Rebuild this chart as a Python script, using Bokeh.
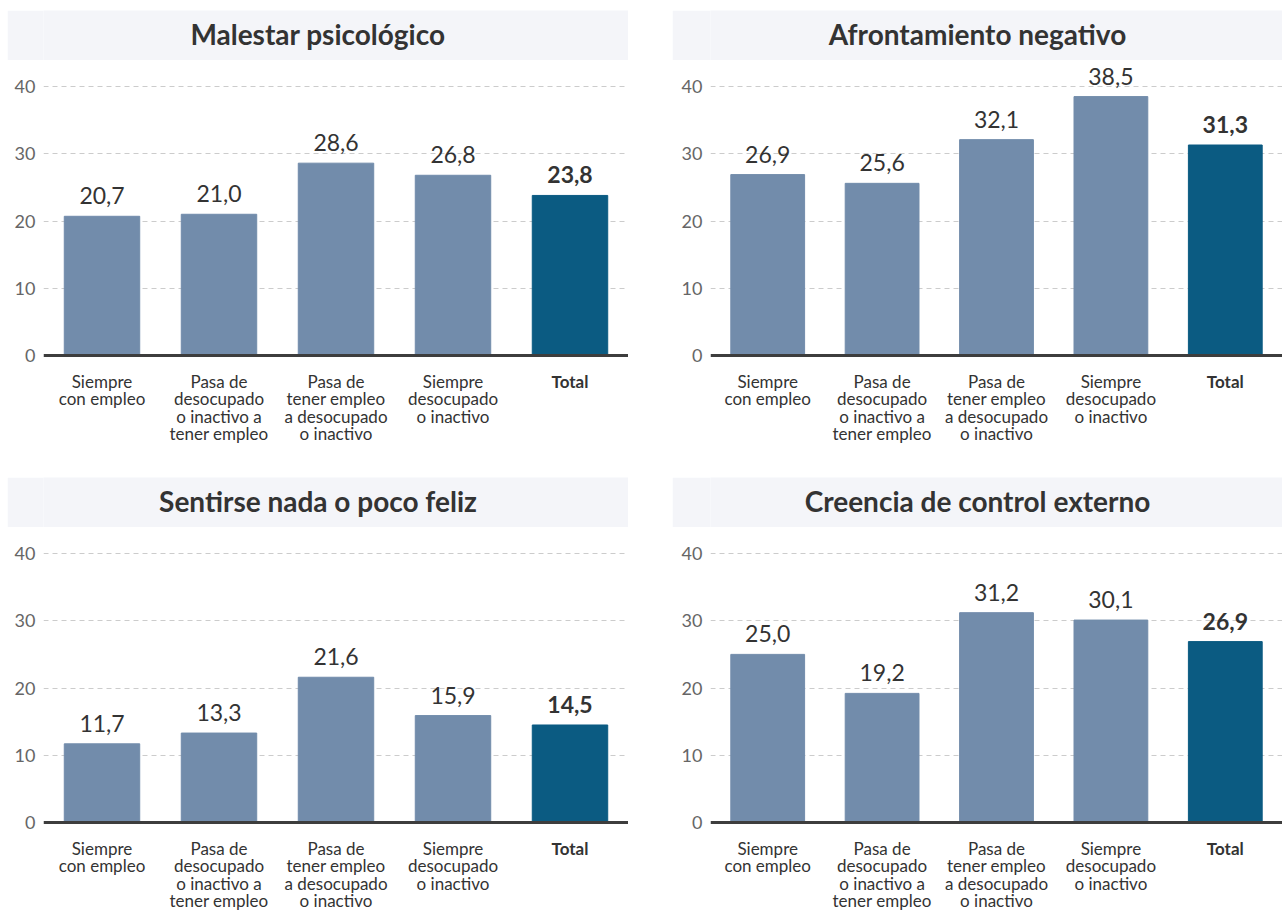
from bokeh.plotting import figure
from bokeh.layouts import column, row
from bokeh.models import ColumnDataSource, Range1d, FactorRange, FixedTicker, Span
from bokeh.core.properties import value
from bokeh.embed import file_html
from bokeh.resources import INLINE

# ---- data ----
categories = ["Siempre\ncon empleo",
              "Pasa de\ndesocupado\no inactivo a\ntener empleo",
              "Pasa de\ntener empleo\na desocupado\no inactivo",
              "Siempre\ndesocupado\no inactivo",
              "Total"]
titles = ["Malestar psicológico", "Afrontamiento negativo",
          "Sentirse nada o poco feliz", "Creencia de control externo"]
malestar = [20.7, 21.0, 28.6, 26.8, 23.8]
afrontamiento = [26.9, 25.6, 32.1, 38.5, 31.3]
feliz = [11.7, 13.3, 21.6, 15.9, 14.5]
control = [25.0, 19.2, 31.2, 30.1, 26.9]
y_ticks = [0, 10, 20, 30, 40]
grid_ticks = [10, 20, 30, 40]

FONT = "Lato"
LIGHT = "#728cab"
DARK = "#0b5b82"
BAND = "#f4f5f9"
TXT = "#333333"

CHART_H = 390          # chart figure height (px)
ZERO_FROM_TOP = 295    # px from chart top to zero line
PX_PER_UNIT = 6.725    # vertical scale


def make_panel(title, values, width, left_border):
    tf = figure(width=width, height=50, x_range=Range1d(0, 1), y_range=Range1d(0, 1),
                toolbar_location=None, output_backend="svg",
                min_border=0, min_border_left=0, min_border_right=0,
                min_border_top=0, min_border_bottom=0,
                x_axis_location=None, y_axis_location=None,
                background_fill_color=BAND, border_fill_color=BAND,
                outline_line_color=None)
    tf.grid.visible = False
    # the title frame is aligned with the chart frame below; shift the text back
    # to the centre of the whole band
    tf.text(x=[0.5], y=[0.5], text=[title], text_align="center",
            text_baseline="middle", x_offset=-left_border / 2, y_offset=-2,
            text_font=value(FONT), text_font_style="bold",
            text_font_size="28px", text_color=TXT)

    y_top = ZERO_FROM_TOP / PX_PER_UNIT
    y_bot = -(CHART_H - ZERO_FROM_TOP) / PX_PER_UNIT
    p = figure(width=width, height=CHART_H, x_range=FactorRange(factors=categories),
               y_range=Range1d(y_bot, y_top), toolbar_location=None,
               output_backend="svg", x_axis_location=None,
               min_border_left=left_border, min_border_right=0, min_border_top=0,
               min_border_bottom=0, outline_line_color=None,
               background_fill_color="white", border_fill_color="white")
    colors = [DARK if c == "Total" else LIGHT for c in categories]
    styles = ["bold" if c == "Total" else "normal" for c in categories]
    labels = [f"{v:.1f}".replace(".", ",") for v in values]
    src = ColumnDataSource(dict(cat=categories, val=values, color=colors,
                                style=styles, label=labels,
                                zero=[0] * len(categories)))

    p.xgrid.visible = False
    p.ygrid.ticker = FixedTicker(ticks=grid_ticks)
    p.ygrid.grid_line_color = "#cccccc"
    p.ygrid.grid_line_dash = "5 4"
    p.ygrid.grid_line_width = 1

    p.vbar(x="cat", top="val", width=0.645, color="color", source=src)
    p.text(x="cat", y="val", text="label", source=src, text_align="center",
           text_baseline="bottom", y_offset=-12, text_font=value(FONT),
           text_font_size="23px", text_font_style="style", text_color=TXT)
    # category labels below the baseline
    p.text(x="cat", y="zero", text="cat", source=src, text_align="center",
           text_baseline="top", y_offset=15, text_font=value(FONT),
           text_font_size="17px", text_font_style="style", text_color=TXT,
           text_line_height=0.84)

    p.add_layout(Span(location=0, dimension="width", line_color="#3d3d3d",
                      line_width=3))

    p.yaxis.ticker = FixedTicker(ticks=y_ticks)
    p.yaxis.axis_line_color = None
    p.yaxis.major_tick_line_color = None
    p.yaxis.minor_tick_line_color = None
    p.yaxis.major_label_text_font = FONT
    p.yaxis.major_label_text_font_size = "18px"
    p.yaxis.major_label_text_color = "#666666"
    p.yaxis.major_label_standoff = 2
    return column(tf, p, spacing=0)


p1 = make_panel(titles[0], malestar, 621, 36)
p2 = make_panel(titles[1], afrontamiento, 610, 38)
p3 = make_panel(titles[2], feliz, 621, 36)
p4 = make_panel(titles[3], control, 610, 38)

layout = column(row(p1, p2, spacing=44), row(p3, p4, spacing=44), spacing=27,
                margin=(10, 0, 0, 7))

open("out.html", "w").write(file_html(layout, INLINE))
